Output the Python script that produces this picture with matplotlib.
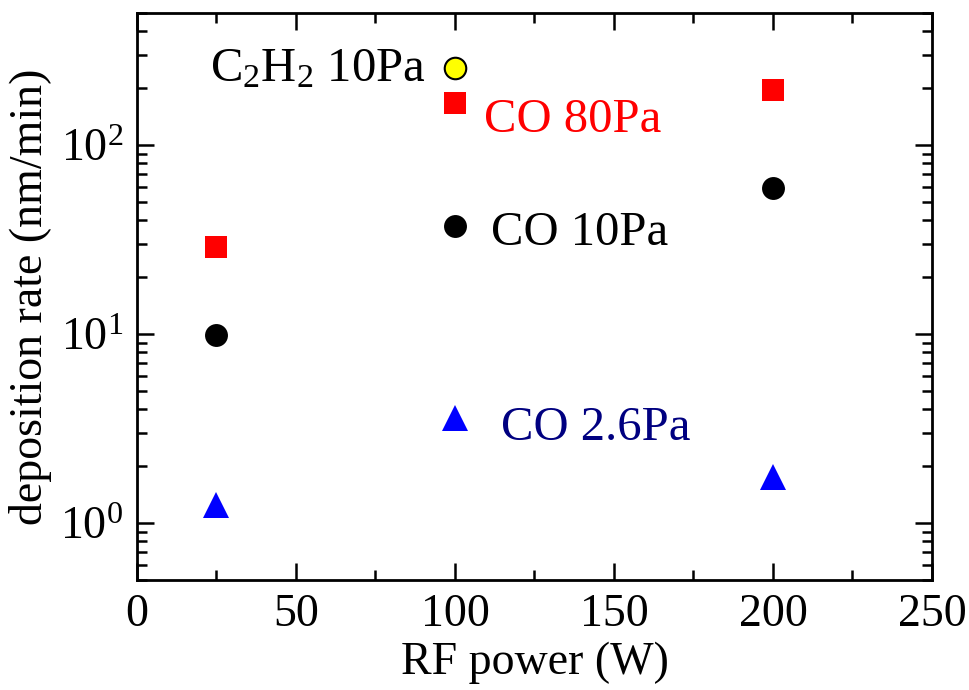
import numpy as np
import matplotlib
matplotlib.use('Agg')
import matplotlib.pyplot as plt

# Шрифт як у Times
plt.rcParams['font.family'] = ['Liberation Serif', 'DejaVu Serif']
plt.rcParams['mathtext.fontset'] = 'custom'
plt.rcParams['mathtext.rm'] = 'Liberation Serif'
plt.rcParams['mathtext.it'] = 'Liberation Serif:italic'
plt.rcParams['mathtext.bf'] = 'Liberation Serif:bold'

# Дані
power = [25, 100, 200]
co_80pa = [29, 167, 196]
co_10pa = [9.9, 37.5, 59]
co_2_6pa = [1.25, 3.6, 1.76]
c2h2_power = [100]
c2h2_10pa = [255]

fig = plt.figure(figsize=(9.7, 6.9), dpi=100)
ax = fig.add_axes([137 / 970, 110 / 690, 795 / 970, 567 / 690])

ax.plot(power, co_80pa, 's', color='red', ms=16, mec='red', mew=0)
ax.plot(power, co_10pa, 'o', color='black', ms=16.5, mew=0)
ax.plot(power, co_2_6pa, '^', color='blue', ms=19, mew=0)
ax.plot(c2h2_power, c2h2_10pa, 'o', mfc='yellow', mec='black', ms=15.5, mew=1.5)

ax.set_yscale('log')
ax.set_xlim(0, 250)
ax.set_ylim(0.5, 500)
ax.set_xticks([0, 50, 100, 150, 200, 250])
ax.set_xticks([25, 75, 125, 175, 225], minor=True)

ax.tick_params(which='both', direction='in', top=True, right=True, labelsize=33, width=1.8)
ax.tick_params(which='major', length=12, pad=10)
ax.tick_params(which='minor', length=7)
for s in ax.spines.values():
    s.set_linewidth(2)

ax.set_xlabel('RF power (W)', fontsize=33, labelpad=4)
ax.set_ylabel('deposition rate (nm/min)', fontsize=33, labelpad=6)

# Підписи серій
ax.text(90.7, 216, r'C$_\mathrm{2}$H$_\mathrm{2}$ 10Pa', fontsize=35, ha='right', va='baseline', color='black')
ax.text(109, 117.6, 'CO 80Pa', fontsize=35, ha='left', va='baseline', color='red')
ax.text(111.2, 29.7, 'CO 10Pa', fontsize=35, ha='left', va='baseline', color='black')
ax.text(114.4, 2.76, 'CO 2.6Pa', fontsize=35, ha='left', va='baseline', color='navy')

fig.savefig('out.png', dpi=100)
